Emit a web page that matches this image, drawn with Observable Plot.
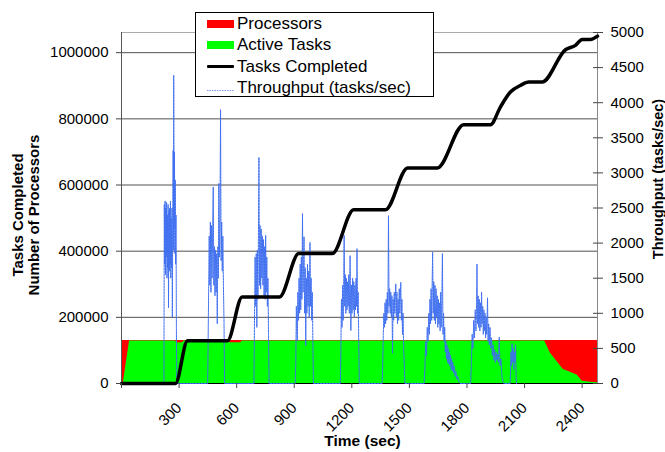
<!DOCTYPE html>
<html><head><meta charset="utf-8">
<script src="https://cdn.jsdelivr.net/npm/d3@7"></script>
<script src="https://cdn.jsdelivr.net/npm/@observablehq/plot@0.6"></script>
<style>
body{margin:0;background:#fff;font-family:"Liberation Sans",Arial,sans-serif;}
#wrap{position:relative;width:665px;height:452px;overflow:hidden;}
#legend{position:absolute;left:195px;top:12px;width:239px;height:85px;border:1px solid #000;background:#fff;box-sizing:border-box;}
.row{position:absolute;left:0;height:22px;width:238px;font-size:17px;color:#000;white-space:nowrap;}
.sw{position:absolute;left:11px;}
.lt{position:absolute;left:41px;top:1px;line-height:20px;}
</style></head><body>
<div id="wrap"><div id="chart"></div><div id="legend"></div></div>
<script>
// ---- data ----
const xMax = 2480;
const yMax = 1061000;
const leftTicks = [0, 200000, 400000, 600000, 800000, 1000000];
const gridTicks = [200000, 400000, 600000, 800000, 1000000];
const rightTicks = [0, 500, 1000, 1500, 2000, 2500, 3000, 3500, 4000, 4500, 5000];
const xTicks = [0, 300, 600, 900, 1200, 1500, 1800, 2100, 2400];
const xLabels = [300, 600, 900, 1200, 1500, 1800, 2100, 2400];

const procT = [0, 2480];
const procV = [130000, 130000];

const activeT = [0, 9, 42, 281, 290, 318, 325, 557, 565, 622, 629, 2205, 2235, 2271, 2302, 2339, 2375, 2401, 2443, 2480];
const activeV = [0, 0, 128500, 128500, 122500, 123000, 128500, 128500, 123000, 123500, 128500, 128500, 91500, 65300, 42300, 34100, 25100, 7000, 4000, 2400];

const doneT = [0, 281, 344, 552, 629, 823, 924, 1098, 1210, 1375, 1491, 1645, 1783, 1922, 1974, 2026, 2078, 2122, 2191, 2313, 2365, 2400, 2443, 2480];
const doneV = [0, 0, 129300, 129300, 261600, 261600, 392700, 392700, 525000, 525000, 651300, 651300, 782400, 782400, 835600, 881000, 901000, 911000, 911000, 1009000, 1022000, 1040000, 1040000, 1050000];

// throughput (tasks/sec), [time, value]
const tpStart = [[0,0]];
const burst1 = [[221,0],[223,2550],[225,1700],[227,2600],[229,1550],[231,2500],[233,1800],[235,2580],[237,1500],[239,2400],[241,1650],[243,2550],[245,1080],[247,2450],[249,1600],[251,2500],[253,1700],[255,2600],[257,1500],[259,2350],[261,1650],[263,2500],[265,940],[267,2300],[269,3320],[271,1900],[272,4390],[274,2200],[276,3300],[278,1850],[280,2900],[282,1700],[284,2400],[286,800],[288,0]];
const burst2 = [[449,0],[454,1300],[457,2100],[460,1400],[463,2300],[466,1300],[469,2250],[472,1500],[475,2200],[478,2800],[481,1400],[484,1950],[487,1250],[490,1900],[493,1300],[496,1850],[499,850],[502,1950],[505,1500],[507,2850],[510,1800],[513,2250],[516,3900],[519,1750],[522,2300],[525,1600],[528,2100],[531,1400],[534,900],[537,0]];
const burst3 = [[690,0],[693,900],[696,1800],[699,1100],[702,1850],[705,800],[708,1900],[711,1200],[714,2300],[716,3220],[719,1400],[722,2250],[725,1350],[728,2200],[731,1500],[734,2100],[737,1400],[740,2050],[743,1250],[746,1950],[749,1200],[751,2110],[754,1300],[757,1800],[760,1100],[763,1500],[766,700],[769,0]];
const burst4 = [[905,0],[908,300],[911,1100],[914,700],[916,610],[919,1300],[922,900],[925,1500],[928,1000],[931,1700],[934,1050],[937,1800],[940,1200],[943,2420],[946,1300],[949,1750],[951,2090],[954,1000],[957,1650],[960,540],[963,1500],[966,1000],[969,1700],[972,1100],[975,1600],[978,950],[982,2010],[985,1100],[988,1500],[991,900],[994,1300],[997,600],[1000,0]];
const burst5 = [[1140,0],[1143,500],[1146,1200],[1149,800],[1152,1400],[1155,900],[1158,1500],[1160,2110],[1163,1100],[1166,1550],[1169,1000],[1172,1500],[1175,1050],[1178,1450],[1181,1100],[1184,1550],[1187,1000],[1191,1820],[1195,755],[1198,1400],[1201,1000],[1204,1500],[1207,1050],[1210,1450],[1213,950],[1216,1400],[1219,1050],[1222,1500],[1225,1100],[1227,1920],[1230,1000],[1233,1300],[1236,600],[1239,0]];
const burst6 = [[1358,0],[1361,300],[1364,700],[1367,1000],[1370,800],[1373,1150],[1376,850],[1379,1200],[1382,900],[1385,1300],[1388,1000],[1391,2390],[1394,1100],[1397,1350],[1400,1000],[1403,1300],[1406,950],[1409,1250],[1412,430],[1415,1200],[1418,900],[1421,1300],[1424,1000],[1427,1250],[1429,1420],[1432,950],[1435,1300],[1438,850],[1441,1200],[1444,900],[1447,1350],[1450,1000],[1453,1250],[1455,1440],[1458,900],[1461,1200],[1464,700],[1467,1000],[1470,500],[1473,300],[1476,0]];
const burst7 = [[1577,0],[1581,250],[1585,600],[1589,400],[1593,800],[1597,600],[1601,1000],[1604,700],[1607,1200],[1610,850],[1613,1350],[1616,900],[1619,1500],[1621,1870],[1624,1000],[1627,1450],[1630,900],[1633,1400],[1636,850],[1639,1350],[1642,950],[1645,1250],[1648,800],[1651,1200],[1654,850],[1657,1150],[1660,750],[1663,1300],[1666,800],[1669,1200],[1672,1850],[1675,700],[1678,1000],[1681,600],[1684,800],[1687,450],[1690,600],[1693,350],[1696,550],[1699,300],[1702,500],[1705,280],[1708,450],[1711,250],[1714,400],[1717,200],[1720,350],[1723,180],[1726,300],[1730,150],[1734,250],[1738,100],[1742,180],[1747,60],[1752,100],[1758,20],[1764,0]];
const burst8 = [[1819,0],[1823,300],[1827,700],[1831,500],[1835,900],[1839,650],[1843,1050],[1847,750],[1850,1150],[1852,1700],[1855,850],[1858,1250],[1861,800],[1864,1200],[1867,750],[1870,1150],[1873,800],[1876,1300],[1879,850],[1882,1100],[1885,700],[1888,1050],[1891,750],[1894,1000],[1897,650],[1900,950],[1903,700],[1907,1220],[1910,600],[1913,850],[1916,550],[1920,800],[1924,500],[1928,650],[1932,400],[1936,550],[1940,330],[1944,480],[1948,300],[1952,450],[1956,330],[1960,420],[1964,300],[1968,660],[1972,250],[1977,350],[1982,100],[1987,30],[1992,0]];
const burst9 = [[2025,0],[2029,450],[2032,250],[2035,570],[2038,300],[2041,500],[2044,200],[2047,450],[2050,300],[2053,550],[2056,100],[2058,0]];

const legendLabels = ["Processors", "Active Tasks", "Tasks Completed", "Throughput (tasks/sec)"];

// ---- build ----
const k = yMax / 5000;
const throughput = [...tpStart, ...burst1, ...burst2, ...burst3, ...burst4, ...burst5, ...burst6, ...burst7, ...burst8, ...burst9];
const tpT = throughput.map(d => d[0]);
const tpV = throughput.map(d => d[1] * k);

const plot = Plot.plot({
  width: 665, height: 452,
  marginLeft: 121, marginRight: 68, marginTop: 32, marginBottom: 69,
  x: {domain: [0, xMax]},
  y: {domain: [0, yMax]},
  style: {fontFamily: "'Liberation Sans', Arial, sans-serif", background: "#fff", color: "#000", overflow: "visible"},
  marks: [
    Plot.ruleY(gridTicks, {stroke: "#505050", strokeWidth: 1}),
    Plot.ruleY([yMax], {stroke: "#aaaaaa"}),
    Plot.areaY(procV, {x: procT, y: procV, fill: "#ff0000"}),
    Plot.areaY(activeV, {x: activeT, y: activeV, fill: "#00ff00"}),
    Plot.ruleY([0], {stroke: "#000"}),
    Plot.ruleX([0], {stroke: "#555"}),
    Plot.ruleX([xMax], {stroke: "#888"}),
    Plot.line(tpV, {x: tpT, y: tpV, stroke: "#4070f0", strokeWidth: 1, strokeDasharray: "2,1"}),
    Plot.line(doneV, {x: doneT, y: doneV, stroke: "#000", strokeWidth: 3.5, curve: "monotone-x", strokeLinejoin: "round"}),
    Plot.axisY({ticks: leftTicks, anchor: "left", tickSize: 5, tickPadding: 8, fontSize: 15, label: null, stroke: "#444", tickFormat: d => String(d)}),
    Plot.axisY({ticks: rightTicks.map(d => d * k), anchor: "right", tickSize: 5, tickPadding: 8, fontSize: 15, label: null, stroke: "#444", tickFormat: d => String(Math.round(d / k))}),
    Plot.axisY({ticks: rightTicks.map(d => d * k), anchor: "right", tickSize: 5, dx: -5, label: null, stroke: "#444", tickFormat: () => ""}),
    Plot.axisX({ticks: xTicks, tickSize: 5, label: null, stroke: "#444", tickFormat: () => ""}),
    Plot.text(xLabels, {x: d => d, frameAnchor: "bottom", dy: 22, rotate: -45, textAnchor: "end", lineAnchor: "middle", text: d => String(d), fontSize: 15, fill: "#000"}),
    Plot.text(["Time (sec)"], {frameAnchor: "bottom", dx: 3, dy: 62, textAnchor: "middle", text: d => d, fontSize: 15.5, fontWeight: "bold", fill: "#000"}),
    Plot.text(["Tasks Completed"], {frameAnchor: "left", dx: -103, dy: 7, rotate: -90, textAnchor: "middle", lineAnchor: "middle", text: d => d, fontSize: 15, fontWeight: "bold", fill: "#000"}),
    Plot.text(["Number of Processors"], {frameAnchor: "left", dx: -87, dy: 7, rotate: -90, textAnchor: "middle", lineAnchor: "middle", text: d => d, fontSize: 15, fontWeight: "bold", fill: "#000"}),
    Plot.text(["Throughput (tasks/sec)"], {frameAnchor: "right", dx: 61, dy: -29, rotate: -90, textAnchor: "middle", lineAnchor: "middle", text: d => d, fontSize: 14.5, fontWeight: "bold", fill: "#000"})
  ]
});
document.getElementById("chart").appendChild(plot);

// legend
const legend = document.getElementById("legend");
const swatches = [
  '<div style="width:27px;height:8px;background:#ff0000"></div>',
  '<div style="width:27px;height:8px;background:#00ff00"></div>',
  '<div style="width:27px;height:3px;background:#000;border-radius:1px"></div>',
  '<svg width="27" height="3"><line x1="0" y1="1.5" x2="27" y2="1.5" stroke="#7d97f5" stroke-width="1.2" stroke-dasharray="1.5,1"/></svg>'
];
const centers = [10.5, 32, 53.5, 75];
const swH = [8, 8, 3, 3];
legendLabels.forEach((lab, i) => {
  const row = document.createElement("div");
  row.className = "row";
  row.style.top = (centers[i] - 11) + "px";
  row.innerHTML = '<div class="sw" style="top:' + (11 - swH[i] / 2) + 'px;line-height:0">' + swatches[i] + '</div><div class="lt">' + lab + '</div>';
  legend.appendChild(row);
});
</script>
</body></html>
